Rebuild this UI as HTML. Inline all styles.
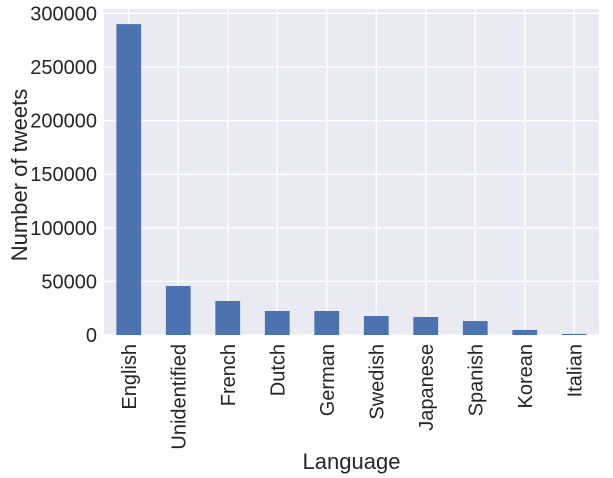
<!DOCTYPE html>
<html><head><meta charset="utf-8"><style>
html,body{margin:0;padding:0;background:#fff;}
svg{display:block;font-family:"Liberation Sans",Arial,sans-serif;}
</style></head><body>
<svg id="chart" width="613" height="478"></svg>
<script>
const categories=["English","Unidentified","French","Dutch","German","Swedish","Japanese","Spanish","Korean","Italian"];
const tweetCounts=[290000,45700,31700,22400,22400,17700,16800,13000,4700,1000];
const yTicks=[0,50000,100000,150000,200000,250000,300000];
const NS="http://www.w3.org/2000/svg";
const svg=document.getElementById('chart');
const L=104,R=599,T=9,B=335;
const slot=(R-L)/categories.length;
function x(i){return L+slot*(i+0.5);}
function y(v){return B-v*(268/250000);}
function mk(t,a,p){const e=document.createElementNS(NS,t);for(const k in a)e.setAttribute(k,a[k]);(p||svg).appendChild(e);return e;}
const panel=mk('rect',{x:L,y:T,width:R-L,height:B-T,fill:'#EAEAF2'});


yTicks.forEach(v=>{
  const g=mk('line',{x1:L,x2:R,y1:y(v),y2:y(v),stroke:'#fff','stroke-width':1.3});
  
  
  const t=mk('text',{x:L-7,y:y(v)+7,'text-anchor':'end','font-size':20,fill:'#262626'});
  t.textContent=v;
  
  
});
categories.forEach((c,i)=>{
  const g=mk('line',{x1:x(i),x2:x(i),y1:T,y2:B,stroke:'#fff','stroke-width':1.3});
  
  
});
categories.forEach((c,i)=>{
  const w=slot*0.5;
  const b=mk('rect',{x:x(i)-w/2,y:y(tweetCounts[i]),width:w,height:B-y(tweetCounts[i]),fill:'#4C72B0'});
  
  
  const t=mk('text',{transform:`translate(${x(i)+7},344) rotate(-90)`,'text-anchor':'end','font-size':20,fill:'#262626'});
  t.textContent=c;
  
  
});
const yl=mk('text',{transform:'translate(27,175) rotate(-90)','text-anchor':'middle','font-size':22,fill:'#262626'});
yl.textContent='Number of tweets';


const xl=mk('text',{x:(L+R)/2,y:469,'text-anchor':'middle','font-size':22,fill:'#262626'});
xl.textContent='Language';


</script>
</body></html>
